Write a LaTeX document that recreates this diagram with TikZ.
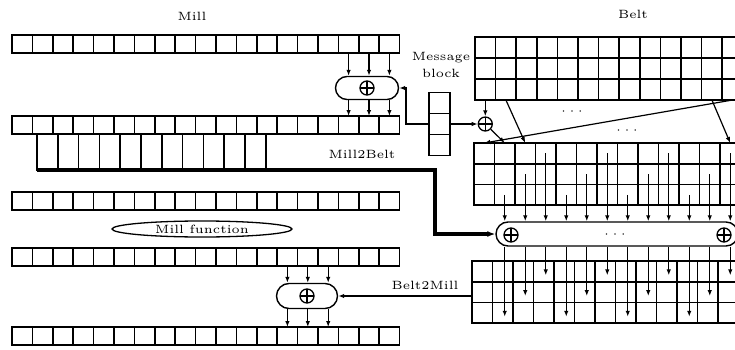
\documentclass[tikz,border=0pt]{standalone}
\usepackage{graphicx}
\usetikzlibrary{arrows.meta, positioning, calc, shapes.geometric}

\newcommand{\figtext}[1]{\scalebox{2.4}{\tiny #1}}

\tikzset{
    cell/.style={draw, line width=1.6pt, inner sep=0pt, outer sep=0pt,
                 minimum width=20.4pt, minimum height=18pt},
    mcell/.style={cell, minimum width=20.8pt, minimum height=36pt},
    bcell/.style={cell, minimum width=20.5pt, minimum height=20.7pt},
    xorbox/.style={draw, line width=1.4pt, rounded corners=11.5pt, inner sep=0pt,
                   minimum width=63pt, minimum height=23pt},
    xorsign/.style={circle, draw, line width=1.3pt, minimum size=14pt, inner sep=0pt,
                    path picture={\draw[line width=1.3pt]
                        (path picture bounding box.north) -- (path picture bounding box.south)
                        (path picture bounding box.west) -- (path picture bounding box.east);}},
    arrow/.style={-{Latex[length=6pt,width=4.5pt]}, line width=1.2pt},
    mline/.style={-{Latex[length=8pt,width=6pt]}, line width=3.2pt}
}

\begin{document}
\begin{tikzpicture}[x=1pt, y=-1pt]
    \useasboundingbox (0,0) rectangle (735,350);
    \clip (0,0) rectangle (735,350);

    % mill
    \foreach \i in {1,...,19} {
        \node[cell] (ma-\i) at ({12+20.4*(\i-0.5)}, 44) {};
        \node[cell] (mb-\i) at ({12+20.4*(\i-0.5)}, 125) {};
        \node[cell] (md-\i) at ({12+20.4*(\i-0.5)}, 201) {};
        \node[cell] (me-\i) at ({12+20.4*(\i-0.5)}, 257) {};
        \node[cell] (mf-\i) at ({12+20.4*(\i-0.5)}, 336) {};
    }
    \foreach \i in {1,...,11}
        \node[mcell] (mc-\i) at ({37+20.8*(\i-0.5)}, 152) {};

    % belt
    \foreach \col in {1,...,13} \foreach \row in {1,2,3} {
        \node[bcell, minimum width=20.6pt, minimum height=21pt] (bt-\col-\row) at ({475+20.6*(\col-0.5)}, {37+21*(\row-0.5)}) {};
        \node[bcell] (bm-\col-\row) at ({474+20.5*(\col-0.5)}, {143+20.7*(\row-0.5)}) {};
        \node[bcell] (bb-\col-\row) at ({472+20.5*(\col-0.5)}, {261+20.7*(\row-0.5)}) {};
    }

    % message block
    \foreach \row in {1,2,3}
        \node[cell, minimum width=21pt, minimum height=21pt] (msg-\row) at (439.5, {82+21*\row}) {};

    \node (milltitle) at (192,16) {\figtext{Mill}};
    \node (belttitle) at (633,14) {\figtext{Belt}};
    \node (msglabel) at (441,66) {\figtext{\begin{tabular}{@{}c@{}}Message\\[1pt]block\end{tabular}}};
    \node[draw, ellipse, line width=1.3pt, inner sep=0pt, minimum width=180pt, minimum height=16pt] (millfn) at (202,229) {\figtext{Mill function}};

    \node[xorbox] (xa) at (367,88) {};
    \node[xorsign] (xa-o) at (xa) {};
    \node[xorbox, minimum width=61pt, minimum height=25pt, rounded corners=12.5pt] (xb) at (307,296) {};
    \node[xorsign] (xb-o) at (xb) {};
    \node[xorsign] (xs) at (485.3,124) {};
    \node[xorbox, minimum width=242pt, minimum height=24pt, rounded corners=12pt] (bar) at (617,234) {};
    \node[xorsign] (bar-l) at (511,235) {};
    \node[xorsign] (bar-r) at (724,235) {};
    \node (bar-dots) at (615,235) {\figtext{$\cdots$}};
    \node (dots-a) at (572,112) {\figtext{$\cdots$}};
    \node (dots-b) at (627,131) {\figtext{$\cdots$}};

    \foreach \i in {17,18,19} {
        \draw[arrow] (ma-\i.south) -- (ma-\i.south |- xa.north);
        \draw[arrow] (xa.south -| mb-\i) -- (mb-\i.north);
    }
    \foreach \i in {14,15,16} {
        \draw[arrow] (me-\i.south) -- (me-\i.south |- xb.north);
        \draw[arrow] (xb.south -| mf-\i) -- (mf-\i.north);
    }

    % message input
    \coordinate (msgturn) at (406,124);
    \draw[arrow] (msg-2.west) -- (msgturn) |- (xa.east);
    \draw[arrow] (msg-2.east) -- (xs.west);
    \draw[arrow] (bt-1-3.south) -- (xs.north);

    % belt rotation
    \draw[arrow] (xs) -- (bm-2-1.north);
    \draw[arrow] (bt-2-3.south) -- (bm-3-1.north);
    \draw[arrow] (bt-12-3.south) -- (bm-13-1.north);
    \draw[arrow] (bt-13-3.south) -- (bm-1-1.north);

    % mill to belt
    \coordinate (m2bturn) at (435,170);
    \draw[mline] (mc-1.south west) -- (m2bturn) |- (bar.west);
    \node (m2blabel) at (362,154) {\figtext{Mill2Belt}};
    \foreach \col/\row in {2/3,3/2,4/1,5/3,6/2,7/1,8/3,9/2,10/1,11/3,12/2,13/1} {
        \draw[arrow] (bm-\col-\row.center) -- (bm-\col-\row |- bar.north);
        \draw[arrow] (bm-\col-\row |- bar.south) -- ($(bm-\col-\row |- bb-\col-\row)+(0,4)$);
    }

    % belt to mill
    \draw[arrow] (bb-1-2.west |- xb.east) -- (xb.east);
    \node (b2mlabel) at (425,285) {\figtext{Belt2Mill}};
\end{tikzpicture}
\end{document}
